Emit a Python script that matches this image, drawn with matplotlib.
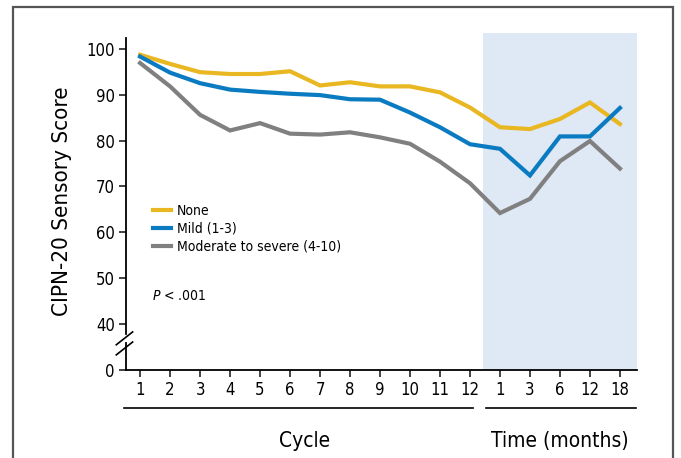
import matplotlib
matplotlib.use("Agg")
import matplotlib.pyplot as plt
import matplotlib.patches as patches
import numpy as np

plt.rcParams['font.family'] = ['DejaVu Sans']
plt.rcParams['font.stretch'] = 'condensed'

# data
tick_labels = ['1', '2', '3', '4', '5', '6', '7', '8', '9', '10', '11', '12',
               '1', '3', '6', '12', '18']
none_vals = [98.7, 96.7, 94.9, 94.5, 94.5, 95.1, 92.0, 92.7, 91.8, 91.8, 90.5, 87.2,
             82.9, 82.5, 84.7, 88.3, 83.6]
mild_vals = [98.3, 94.8, 92.5, 91.1, 90.6, 90.2, 89.9, 89.0, 88.9, 86.1, 82.9, 79.2,
             78.2, 72.4, 80.9, 80.9, 87.1]
severe_vals = [96.9, 91.8, 85.6, 82.2, 83.8, 81.5, 81.3, 81.8, 80.7, 79.3, 75.4, 70.7,
               64.2, 67.3, 75.5, 79.9, 73.9]
y_ticks = [30, 40, 50, 60, 70, 80, 90, 100]
y_labels = ['0', '40', '50', '60', '70', '80', '90', '100']

yellow = '#E9B722'
blue = '#0A7BC1'
gray = '#808080'

fig = plt.figure(figsize=(6.81, 4.58), dpi=100)
ax = fig.add_axes([0.185, 0.1921, 0.75, 0.7365])

x = np.arange(len(tick_labels))
ax.axvspan(11.43, 16.56, color='#DFE8F5', lw=0, zorder=0)
ax.plot(x, none_vals, color=yellow, lw=3, label='None', solid_joinstyle='miter')
ax.plot(x, mild_vals, color=blue, lw=3, label='Mild (1-3)', solid_joinstyle='miter')
ax.plot(x, severe_vals, color=gray, lw=3, label='Moderate to severe (4-10)', solid_joinstyle='miter')

ax.set_xlim(-0.47, 16.56)
ax.set_ylim(30, 103.5)
ax.set_xticks(x)
ax.set_xticklabels(tick_labels, fontsize=12)
ax.set_yticks(y_ticks)
ax.set_yticklabels(y_labels, fontsize=12)
ax.tick_params(direction='out', length=5, width=1.2, color='#222222', pad=3)

for s in ['top', 'right']:
    ax.spines[s].set_visible(False)
ax.spines['bottom'].set_linewidth(1.3)
ax.spines['left'].set_linewidth(1.3)
ax.spines['left'].set_bounds(37.9, 102.4)

# axis break
yt = ax.get_yaxis_transform()
ax.plot([0, 0], [30, 35.9], color='black', lw=1.3, transform=yt, clip_on=False)
ax.plot([-0.019, 0.013], [35.5, 38.3], color='black', lw=1.2, transform=yt, clip_on=False)
ax.plot([-0.019, 0.013], [33.3, 36.1], color='black', lw=1.2, transform=yt, clip_on=False)

# group underlines and labels
xt = ax.get_xaxis_transform()
ax.plot([-0.53, 11.1], [-0.113, -0.113], color='black', lw=1.2, transform=xt, clip_on=False)
ax.plot([11.53, 16.55], [-0.113, -0.113], color='black', lw=1.2, transform=xt, clip_on=False)
ax.text(5.5, -0.21, 'Cycle', transform=xt, ha='center', va='center', fontsize=15)
ax.text(14.0, -0.21, 'Time (months)', transform=xt, ha='center', va='center', fontsize=15)

ax.set_ylabel('CIPN-20 Sensory Score', fontsize=16, labelpad=10)

ax.legend(loc='upper left', bbox_to_anchor=(0.04, 0.514), frameon=False, fontsize=10,
          handlelength=1.3, handletextpad=0.4, labelspacing=0.3, borderpad=0)
ax.text(0.051, 0.22, r'$P$ < .001', transform=ax.transAxes, fontsize=10, va='center')

# figure frame
fig.patches.append(patches.Rectangle((13 / 681, -0.1), 660 / 681, 1.1 - 7 / 458,
                                     transform=fig.transFigure, fill=False,
                                     edgecolor='#555555', lw=1.6))

plt.savefig('out.png', dpi=100)
